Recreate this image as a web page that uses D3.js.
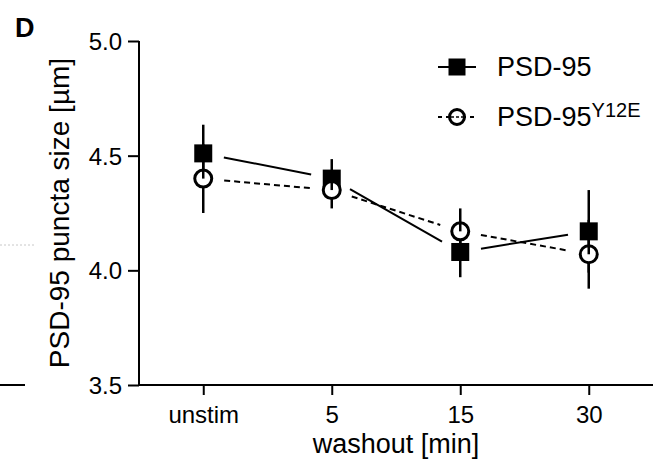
<!DOCTYPE html>
<html lang="en">
<head>
<meta charset="utf-8" />
<title>PSD-95 puncta size</title>
<script src="https://cdn.jsdelivr.net/npm/d3@7/dist/d3.min.js"></script>
<style>
  body { margin: 0; background: #fff; }
  svg text { font-family: "Liberation Sans", Arial, sans-serif; fill: #000; }
</style>
</head>
<body>
<div id="chart"></div>
<script>
// data (mean +/- SEM)
var categories = ["unstim", "5", "15", "30"];
var psd95 = [4.51, 4.40, 4.08, 4.17];
var psd95Sem = [0.125, 0.085, 0.11, 0.18];
var y12e = [4.40, 4.35, 4.17, 4.07];
var y12eSem = [0.15, 0.08, 0.10, 0.15];
var yTicks = [3.5, 4.0, 4.5, 5.0];

var width = 661, height = 461;

var svg = d3.select("#chart").append("svg")
    .attr("width", width)
    .attr("height", height);

var x = d3.scalePoint().domain(categories).range([139, 653]).padding(0.5);
var y = d3.scaleLinear().domain([3.5, 5.0]).range([385, 41]);

// bits of the neighbouring panel at the left edge
svg.append("line")
    .attr("x1", 0).attr("x2", 36).attr("y1", 245).attr("y2", 245)
    .attr("stroke", "#c8c8c8").attr("stroke-width", 1).attr("stroke-dasharray", "2,2");
svg.append("line")
    .attr("x1", 0).attr("x2", 25).attr("y1", 385).attr("y2", 385)
    .attr("stroke", "#000").attr("stroke-width", 2);

// panel letter
svg.append("text").attr("x", 15).attr("y", 37)
    .style("font-size", "27px").style("font-weight", "bold").text("D");

// axes
var yAxis = svg.append("g")
    .attr("transform", "translate(139,0)")
    .call(d3.axisLeft(y).tickValues(yTicks).tickFormat(d3.format(".1f")).tickSize(11).tickPadding(6));
var xAxis = svg.append("g")
    .attr("transform", "translate(0,385)")
    .call(d3.axisBottom(x).tickSize(10).tickPadding(11).tickSizeOuter(0));

[yAxis, xAxis].forEach(function(g) {
  g.select(".domain").attr("stroke-width", 2);
  g.selectAll(".tick line").attr("stroke-width", 2);
  g.selectAll("text").style("font-size", "24px").attr("fill", "#000");
});
yAxis.select(".domain").attr("d", "M0," + y(5.0) + "V" + y(3.5));
xAxis.select(".domain").attr("d", "M139,0H653");
yAxis.selectAll("text").attr("dy", "0.35em");
xAxis.selectAll("text").attr("dy", "0.71em");

svg.append("text")
    .attr("transform", "translate(69," + ((y(5.0) + y(3.5)) / 2) + ") rotate(-90)")
    .attr("text-anchor", "middle")
    .style("font-size", "28px")
    .text("PSD-95 puncta size [\u00b5m]");

svg.append("text")
    .attr("x", (x("unstim") + x("30")) / 2).attr("y", 453)
    .attr("text-anchor", "middle")
    .style("font-size", "27px")
    .text("washout [min]");

// connecting lines stop short of the markers
var gap = 21;
function segments(vals) {
  var out = [];
  for (var i = 0; i < vals.length - 1; i++) {
    var x1 = x(categories[i]), y1 = y(vals[i]);
    var x2 = x(categories[i + 1]), y2 = y(vals[i + 1]);
    var len = Math.hypot(x2 - x1, y2 - y1);
    var ux = (x2 - x1) / len, uy = (y2 - y1) / len;
    out.push({x1: x1 + ux * gap, y1: y1 + uy * gap, x2: x2 - ux * gap, y2: y2 - uy * gap});
  }
  return out;
}

function drawLines(vals, dash) {
  svg.append("g").selectAll("line").data(segments(vals)).join("line")
      .attr("x1", function(d) { return d.x1; })
      .attr("y1", function(d) { return d.y1; })
      .attr("x2", function(d) { return d.x2; })
      .attr("y2", function(d) { return d.y2; })
      .attr("stroke", "#000")
      .attr("stroke-width", 2)
      .attr("stroke-dasharray", dash);
}
drawLines(psd95, null);
drawLines(y12e, "6,4");

// error bars
function drawBars(vals, sem) {
  svg.append("g").selectAll("line").data(vals).join("line")
      .attr("x1", function(d, i) { return x(categories[i]); })
      .attr("x2", function(d, i) { return x(categories[i]); })
      .attr("y1", function(d, i) { return y(d - sem[i]); })
      .attr("y2", function(d, i) { return y(d + sem[i]); })
      .attr("stroke", "#000")
      .attr("stroke-width", 2.5);
}
drawBars(psd95, psd95Sem);
drawBars(y12e, y12eSem);

// markers
var sq = 18, r = 8.5;
svg.append("g").selectAll("rect").data(psd95).join("rect")
    .attr("x", function(d, i) { return x(categories[i]) - sq / 2; })
    .attr("y", function(d) { return y(d) - sq / 2; })
    .attr("width", sq).attr("height", sq)
    .attr("fill", "#000");

svg.append("g").selectAll("circle").data(y12e).join("circle")
    .attr("cx", function(d, i) { return x(categories[i]); })
    .attr("cy", function(d) { return y(d); })
    .attr("r", r)
    .attr("fill", "#fff")
    .attr("stroke", "#000")
    .attr("stroke-width", 3);

// upper half of the bar shows through the open circle
svg.append("g").selectAll("line").data(y12e).join("line")
    .attr("x1", function(d, i) { return x(categories[i]); })
    .attr("x2", function(d, i) { return x(categories[i]); })
    .attr("y1", function(d) { return y(d); })
    .attr("y2", function(d) { return y(d) - r; })
    .attr("stroke", "#000")
    .attr("stroke-width", 2.5);

// legend
var legend = svg.append("g");
legend.append("line").attr("x1", 438).attr("x2", 476).attr("y1", 67).attr("y2", 67)
    .attr("stroke", "#000").attr("stroke-width", 2);
legend.append("rect").attr("x", 457 - 8.5).attr("y", 67 - 8.5).attr("width", 17).attr("height", 17)
    .attr("fill", "#000");
legend.append("text").attr("x", 497).attr("y", 76).style("font-size", "27px").text("PSD-95");

legend.append("line").attr("x1", 438).attr("x2", 476).attr("y1", 117).attr("y2", 117)
    .attr("stroke", "#000").attr("stroke-width", 2).attr("stroke-dasharray", "4,4");
legend.append("circle").attr("cx", 457).attr("cy", 117).attr("r", 7.5)
    .attr("fill", "#fff").attr("stroke", "#000").attr("stroke-width", 3);
legend.append("line").attr("x1", 451).attr("x2", 463).attr("y1", 117).attr("y2", 117)
    .attr("stroke", "#000").attr("stroke-width", 1.5).attr("stroke-dasharray", "3,2");
var t2 = legend.append("text").attr("x", 497).attr("y", 126).style("font-size", "27px");
t2.append("tspan").text("PSD-95");
t2.append("tspan").attr("dy", -9).style("font-size", "20px").text("Y12E");
</script>
</body>
</html>
